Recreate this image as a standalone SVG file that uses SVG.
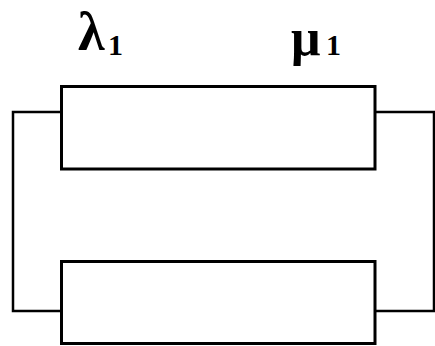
<svg xmlns="http://www.w3.org/2000/svg" width="435" height="346" viewBox="0 0 435 346">
<style>
.box{fill:#fff;stroke:#000;stroke-width:3}
.wire{fill:none;stroke:#000;stroke-width:2.5}
.lbl{font-family:"Liberation Serif",serif;font-weight:bold;fill:#000}
.sub{font-size:30px}
</style>
<rect width="435" height="346" fill="#fff"/>
<g id="connectors">
<polyline class="wire" points="61,112 13,112 13,311 61,311"/>
<polyline class="wire" points="375,112 434,112 434,311 375,311"/>
</g>
<g id="block1">
<rect class="box" x="61.5" y="86.5" width="313.5" height="82.5"/>
</g>
<g id="block2">
<rect class="box" x="61.5" y="261.5" width="313.5" height="82"/>
</g>
<g id="labels">
<text class="lbl" x="78" y="50" font-size="54">λ<tspan class="sub" x="108" y="55">1</tspan></text>
<text class="lbl" x="291" y="55" font-size="52">μ<tspan class="sub" x="326" y="55">1</tspan></text>
</g>
</svg>
